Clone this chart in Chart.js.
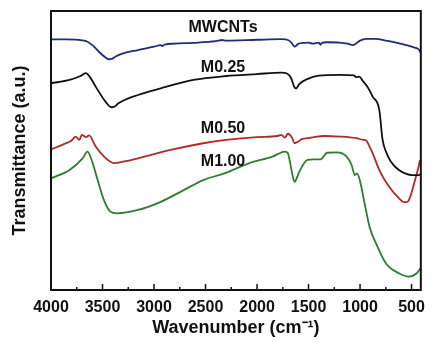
<!DOCTYPE html>
<html>
<head>
<meta charset="utf-8">
<script src="https://cdn.jsdelivr.net/npm/chart.js@4.4.0/dist/chart.umd.min.js"></script>
<style>
  body { margin: 0; background: #fff; }
  canvas { display: block; }
</style>
</head>
<body>
<canvas id="ftir-chart" width="433" height="342"></canvas>
<script>
// Wavenumber ticks (cm-1)
const tickLabels = [4000, 3500, 3000, 2500, 2000, 1500, 1000, 500];

// MWCNTs (blue)
const wnMWCNT = [4000, 3850, 3700, 3646, 3590, 3535, 3480, 3440, 3410, 3377, 3300, 3155, 3000, 2934, 2920, 2900, 2800, 2617, 2400, 2340, 2301, 2000, 1760, 1700, 1660, 1636, 1600, 1540, 1500, 1460, 1400, 1385, 1370, 1320, 1200, 1120, 1067, 1000, 940, 850, 750, 650, 550, 470, 430, 412];
const tMWCNT = [89.8, 89.8, 89.5, 89.0, 87.5, 85.4, 83.6, 82.7, 82.8, 83.6, 84.8, 86.0, 87.2, 87.8, 87.4, 87.9, 88.3, 88.6, 89.2, 89.6, 89.4, 89.7, 89.9, 89.6, 88.4, 87.2, 88.2, 88.6, 88.7, 88.3, 88.7, 87.9, 88.6, 88.8, 88.7, 88.3, 87.8, 89.4, 90.0, 90.0, 89.4, 88.7, 87.8, 86.9, 86.2, 85.0];

// M0.25 (black)
const wn025 = [4000, 3820, 3720, 3662, 3620, 3566, 3471, 3414, 3380, 3345, 3155, 2934, 2617, 2301, 2000, 1763, 1710, 1670, 1636, 1620, 1590, 1513, 1400, 1200, 1060, 1038, 1010, 970, 924, 877, 813, 782, 753, 700, 623, 550, 497, 430, 412];
const t025 = [74.1, 75.3, 76.6, 77.7, 76.2, 72.9, 67.5, 65.5, 65.8, 66.9, 69.9, 72.3, 75.3, 76.7, 77.4, 77.9, 77.6, 76.0, 72.6, 72.3, 73.8, 75.6, 76.8, 77.1, 76.9, 76.3, 76.5, 74.8, 72.6, 69.3, 64.5, 54.0, 50.0, 46.0, 43.0, 41.6, 41.2, 41.2, 41.5];

// M0.50 (red)
const wn050 = [4000, 3880, 3800, 3760, 3725, 3700, 3660, 3630, 3566, 3480, 3424, 3390, 3300, 3155, 2839, 2522, 2301, 2000, 1800, 1763, 1730, 1700, 1660, 1636, 1600, 1560, 1510, 1450, 1351, 1200, 1035, 971, 940, 908, 877, 813, 718, 623, 576, 540, 513, 466, 430, 418];
const t050 = [50.4, 52.2, 53.6, 55.0, 53.8, 55.6, 54.8, 55.4, 51.4, 47.6, 46.0, 45.5, 46.0, 47.2, 50.2, 52.6, 53.8, 54.8, 55.2, 55.6, 54.6, 56.0, 54.6, 52.6, 53.2, 54.2, 54.4, 54.8, 55.2, 55.0, 54.4, 53.8, 53.6, 51.4, 49.0, 43.0, 37.0, 32.9, 31.5, 31.6, 33.4, 39.4, 44.5, 46.6];

// M1.00 (green)
const wn100 = [4000, 3820, 3693, 3646, 3600, 3566, 3487, 3424, 3361, 3155, 2934, 2712, 2522, 2317, 2080, 1850, 1731, 1700, 1684, 1660, 1636, 1610, 1589, 1510, 1446, 1383, 1320, 1225, 1130, 1082, 1051, 1029, 1003, 956, 908, 845, 750, 623, 528, 450, 402];
const t100 = [40.0, 43.0, 47.2, 49.6, 46.0, 41.8, 32.3, 28.1, 27.5, 28.7, 31.6, 35.8, 39.4, 41.8, 45.4, 47.8, 49.6, 49.0, 46.6, 42.0, 38.8, 40.5, 42.4, 46.6, 46.8, 46.8, 49.2, 49.3, 47.8, 44.8, 41.2, 41.8, 39.4, 31.1, 22.7, 16.7, 9.6, 6.0, 4.8, 6.0, 8.4];

// Sample labels, placed in data coordinates
const sampleLabels = [
    { text: 'MWCNTs', x: 2330, y: 93.9 },
    { text: 'M0.25', x: 2330, y: 79.6 },
    { text: 'M0.50', x: 2330, y: 58.0 },
    { text: 'M1.00', x: 2330, y: 45.9 }
];

function toPoints(xs, ys) {
    return xs.map((x, i) => ({ x: x, y: ys[i] }));
}

// Cadre, graduations vers l'intérieur et étiquettes
const framePlugin = {
    id: 'frame',
    afterDatasetsDraw(chart) {
        const ctx = chart.ctx;
        const area = chart.chartArea;
        const xs = chart.scales.x;
        const ys = chart.scales.y;
        ctx.save();

        // ticks on the bottom axis
        ctx.strokeStyle = '#111';
        ctx.lineWidth = 1.5;
        for (let v = 500; v <= 4000; v += 250) {
            const px = xs.getPixelForValue(v);
            const len = v % 500 === 0 ? 6 : 3;
            ctx.beginPath();
            ctx.moveTo(px, area.bottom);
            ctx.lineTo(px, area.bottom - len);
            ctx.stroke();
        }

        // box
        ctx.lineWidth = 2;
        ctx.strokeRect(area.left, area.top, area.right - area.left, area.bottom - area.top);

        // labels
        ctx.fillStyle = '#111';
        ctx.font = 'bold 16px "Liberation Sans", Arial, sans-serif';
        ctx.textAlign = 'center';
        ctx.textBaseline = 'middle';
        sampleLabels.forEach(l => {
            ctx.fillText(l.text, xs.getPixelForValue(l.x), ys.getPixelForValue(l.y));
        });
        ctx.restore();
    }
};

const lineStyle = {
    borderWidth: 1.8,
    pointRadius: 0,
    cubicInterpolationMode: 'monotone',
    fill: false
};

new Chart(document.getElementById('ftir-chart'), {
    type: 'line',
    data: {
        datasets: [
            Object.assign({ label: 'MWCNTs', data: toPoints(wnMWCNT, tMWCNT), borderColor: '#1f2d78' }, lineStyle),
            Object.assign({ label: 'M0.25', data: toPoints(wn025, t025), borderColor: '#111111' }, lineStyle),
            Object.assign({ label: 'M0.50', data: toPoints(wn050, t050), borderColor: '#b02a26' }, lineStyle),
            Object.assign({ label: 'M1.00', data: toPoints(wn100, t100), borderColor: '#2e7d32' }, lineStyle)
        ]
    },
    options: {
        responsive: false,
        animation: false,
        devicePixelRatio: 1,
        layout: { padding: { left: 0, right: 4, top: 11, bottom: 0 } },
        plugins: {
            legend: { display: false },
            tooltip: { enabled: false }
        },
        scales: {
            x: {
                type: 'linear',
                reverse: true,
                min: 410,
                max: 4000,
                grid: { display: false, drawTicks: false },
                border: { display: false },
                afterBuildTicks: scale => {
                    scale.ticks = tickLabels.map(v => ({ value: v }));
                },
                afterFit: scale => { scale.height = 52; },
                ticks: {
                    autoSkip: false,
                    maxRotation: 0,
                    padding: 8,
                    color: '#111',
                    callback: value => String(value),
                    font: { family: '"Liberation Sans", Arial, sans-serif', size: 16, weight: 'bold' }
                },
                title: {
                    display: true,
                    text: 'Wavenumber (cm\u207B\u00B9)',
                    color: '#111',
                    padding: { top: 0, bottom: 3 },
                    font: { family: '"Liberation Sans", Arial, sans-serif', size: 18, weight: 'bold' }
                }
            },
            y: {
                min: 0,
                max: 100,
                grid: { display: false, drawTicks: false },
                border: { display: false },
                ticks: { display: false },
                afterFit: scale => { scale.width = 51; },
                title: {
                    display: true,
                    text: 'Transmittance (a.u.)',
                    color: '#111',
                    padding: { top: 9, bottom: 0 },
                    font: { family: '"Liberation Sans", Arial, sans-serif', size: 18, weight: 'bold' }
                }
            }
        }
    },
    plugins: [framePlugin]
});
</script>
</body>
</html>
